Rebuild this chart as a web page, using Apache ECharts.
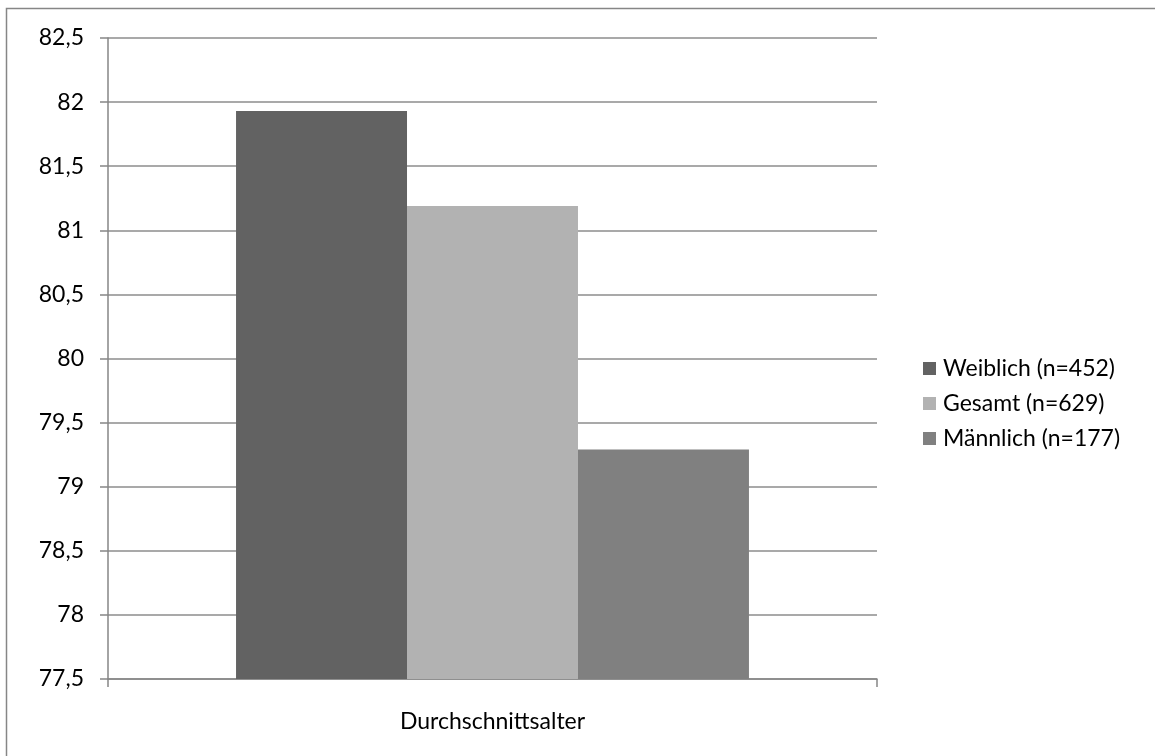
<!DOCTYPE html>
<html>
<head>
<meta charset="utf-8">
<script src="https://cdn.jsdelivr.net/npm/echarts@6/dist/echarts.min.js"></script>
<style>
  html, body { margin: 0; padding: 0; background: #fff; }
  #chart { width: 1155px; height: 756px; }
</style>
</head>
<body>
<div id="chart"></div>
<script>
// Average age by group
const categories = ['Durchschnittsalter'];
const seriesNames = ['Weiblich (n=452)', 'Gesamt (n=629)', 'Männlich (n=177)'];
const weiblich = [81.93];
const gesamt = [81.19];
const maennlich = [79.29];
const seriesColors = ['#626262', '#b2b2b2', '#808080'];

const FONT = 'Lato, "Open Sans", sans-serif';
const FONT_SIZE = 23;
const chart = echarts.init(document.getElementById('chart'), null, { renderer: 'canvas' });

const values = [weiblich, gesamt, maennlich];

chart.setOption({
  animation: false,
  backgroundColor: '#ffffff',
  graphic: [{
    type: 'rect',
    shape: { x: 6.5, y: 8.5, width: 1200, height: 800 },
    style: { fill: 'none', stroke: '#868686', lineWidth: 1.5 },
    silent: true,
    z: -1
  }],
  grid: { left: 108, right: 278, top: 38, bottom: 77, containLabel: false },
  legend: {
    orient: 'vertical',
    left: 918,
    top: 352,
    itemWidth: 13,
    itemHeight: 13,
    itemGap: 12,
    icon: 'rect',
    textStyle: { fontFamily: FONT, fontSize: FONT_SIZE, color: '#000', padding: [0, 0, 0, 2] },
    data: seriesNames
  },
  xAxis: {
    type: 'category',
    data: categories,
    boundaryGap: true,
    axisLine: { lineStyle: { color: '#868686', width: 1.5 } },
    axisTick: { show: true, length: 8, alignWithLabel: false, lineStyle: { color: '#868686', width: 1.5 } },
    axisLabel: { fontFamily: FONT, fontSize: FONT_SIZE, color: '#000', margin: 31 },
    splitLine: { show: false }
  },
  yAxis: {
    type: 'value',
    min: 77.5,
    max: 82.5,
    interval: 0.5,
    axisLine: { show: true, lineStyle: { color: '#868686', width: 1.5 } },
    axisTick: { show: true, length: 8, inside: false, lineStyle: { color: '#868686', width: 1.5 } },
    axisLabel: {
      fontFamily: FONT, fontSize: FONT_SIZE, color: '#000', margin: 24,
      formatter: v => String(Math.round(v * 10) / 10).replace('.', ',')
    },
    splitLine: { show: true, lineStyle: { color: '#8c8c8c', width: 1.5 } }
  },
  series: seriesNames.map((name, i) => ({
    name: name,
    type: 'bar',
    data: values[i],
    barGap: '0%',
    barCategoryGap: '33.3%',
    itemStyle: { color: seriesColors[i] }
  }))
});
</script>
</body>
</html>
